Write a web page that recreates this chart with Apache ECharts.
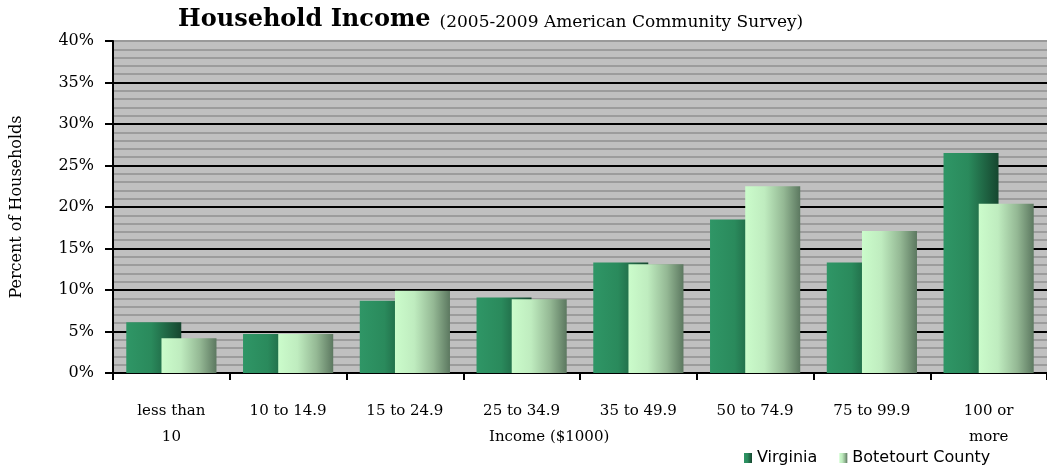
<!DOCTYPE html>
<html>
<head>
<meta charset="utf-8">
<script src="https://cdn.jsdelivr.net/npm/echarts@6/dist/echarts.min.js"></script>
<style>html,body{margin:0;padding:0;background:#fff;}#c{width:1047px;height:469px;}</style>
</head>
<body>
<div id="c"></div>
<script>
var categories = ['less than\n10', '10 to 14.9', '15 to 24.9', '25 to 34.9', '35 to 49.9', '50 to 74.9', '75 to 99.9', '100 or\nmore'];
var virginia = [6.1, 4.7, 8.7, 9.1, 13.3, 18.5, 13.3, 26.5];
var botetourt = [4.2, 4.7, 9.9, 8.9, 13.1, 22.5, 17.1, 20.4];
var yTicks = [0, 5, 10, 15, 20, 25, 30, 35, 40];

var chart = echarts.init(document.getElementById('c'));
var serif = 'DejaVu Serif';
var vGrad = new echarts.graphic.LinearGradient(0, 0, 1, 0, [
  {offset: 0, color: '#2f9666'},
  {offset: 0.45, color: '#2a8a5c'},
  {offset: 1, color: '#16462f'}
]);
var bGrad = new echarts.graphic.LinearGradient(0, 0, 1, 0, [
  {offset: 0, color: '#cbfccb'},
  {offset: 0.35, color: '#bfecbf'},
  {offset: 0.7, color: '#94b894'},
  {offset: 1, color: '#5c7860'}
]);
chart.setOption({
  animation: false,
  title: [{
    text: '{a|Household Income} {b|(2005-2009 American Community Survey)}',
    left: 173, top: 3,
    textStyle: {
      rich: {
        a: {fontFamily: serif, fontWeight: 'bold', fontSize: 24, color: '#000'},
        b: {fontFamily: serif, fontWeight: 'normal', fontSize: 17, color: '#000', padding: [6, 0, 0, 4]}
      }
    }
  }, {
    text: 'Income ($1000)',
    left: 484, top: 425,
    textStyle: {fontFamily: serif, fontWeight: 'normal', fontSize: 15, color: '#000'}
  }],
  legend: {
    data: ['Virginia', 'Botetourt County'],
    left: 739, top: 445,
    icon: 'rect', itemWidth: 8, itemHeight: 10, itemGap: 22,
    textStyle: {fontFamily: 'DejaVu Sans', fontSize: 16, color: '#000'}
  },
  grid: {
    left: 113, top: 41, width: 943, bottom: 96,
    show: true, backgroundColor: '#c0c0c0', borderWidth: 0
  },
  xAxis: {
    type: 'category',
    data: categories,
    axisLine: {lineStyle: {color: '#000', width: 2}},
    axisTick: {show: true, length: 7, lineStyle: {color: '#000', width: 2}},
    axisLabel: {fontFamily: serif, fontSize: 15, color: '#000', margin: 25, lineHeight: 26, interval: 0}
  },
  yAxis: {
    type: 'value',
    min: yTicks[0], max: yTicks[yTicks.length - 1], interval: 5,
    name: 'Percent of Households',
    nameLocation: 'middle', nameGap: 88,
    nameTextStyle: {fontFamily: serif, fontSize: 16, color: '#000'},
    axisLine: {show: true, lineStyle: {color: '#000', width: 2}},
    axisTick: {show: true, length: 8, lineStyle: {color: '#000', width: 2}},
    axisLabel: {formatter: '{value}%', fontFamily: serif, fontSize: 16, color: '#000', margin: 19},
    splitLine: {show: true, lineStyle: {color: ['#000', '#000', '#000', '#000', '#000', '#000', '#000', '#000', '#999'], width: 2}},
    minorTick: {show: false, splitNumber: 5},
    minorSplitLine: {show: true, lineStyle: {color: '#9c9c9c', width: 2}}
  },
  series: [{
    name: 'Virginia', type: 'bar', data: virginia,
    barWidth: 55, barGap: '-36%',
    itemStyle: {color: vGrad}
  }, {
    name: 'Botetourt County', type: 'bar', data: botetourt,
    barWidth: 55,
    itemStyle: {color: bGrad}
  }]
});
</script>
</body>
</html>
